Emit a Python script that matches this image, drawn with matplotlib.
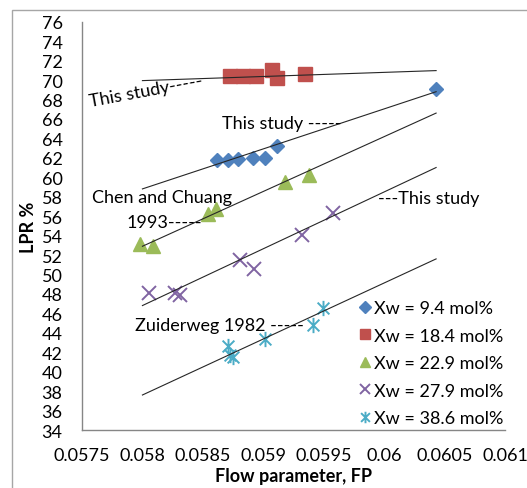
import numpy as np
import matplotlib
matplotlib.use('Agg')
import matplotlib.pyplot as plt
from matplotlib.path import Path
from matplotlib.patches import Rectangle

plt.rcParams['font.family'] = ['Lato', 'DejaVu Sans']

# data
blue_x = [0.058617, 0.058708, 0.058791, 0.058915, 0.059014, 0.059113, 0.060429]
blue_y = [61.8, 61.8, 61.9, 62.0, 62.0, 63.2, 69.1]

red_x = [0.058725, 0.058832, 0.058940, 0.059072, 0.059113, 0.059345]
red_y = [70.4, 70.4, 70.4, 71.0, 70.2, 70.6]

green_x = [0.057980, 0.058085, 0.058545, 0.058606, 0.059179, 0.059380]
green_y = [53.1, 52.9, 56.2, 56.7, 59.5, 60.2]

purple_x = [0.058054, 0.058270, 0.058311, 0.058811, 0.058923, 0.059318, 0.059577]
purple_y = [48.1, 48.1, 47.9, 51.5, 50.6, 54.1, 56.3]

cyan_x = [0.058711, 0.058725, 0.058752, 0.059014, 0.059414, 0.059491]
cyan_y = [42.6, 41.7, 41.5, 43.4, 44.8, 46.5]

labels = ['Xw = 9.4 mol%', 'Xw = 18.4 mol%', 'Xw = 22.9 mol%',
          'Xw = 27.9 mol%', 'Xw = 38.6 mol%']

# trend lines (start/end values at x = 0.058 and 0.06043)
trend_x = [0.05800, 0.06043]
trend_start = [58.8, 69.94, 52.9, 46.8, 37.6]
trend_end = [68.8, 70.97, 66.6, 61.0, 51.6]

xticks = [0.0575, 0.058, 0.0585, 0.059, 0.0595, 0.06, 0.0605, 0.061]
xticklabels = ['0.0575', '0.058', '0.0585', '0.059', '0.0595', '0.06', '0.0605', '0.061']
yticks = list(range(34, 77, 2))

# excel style asterisk: an x with a vertical bar
aster = Path([(-1, -1), (1, 1), (-1, 1), (1, -1), (0, -1.3), (0, 1.3)],
             [Path.MOVETO, Path.LINETO, Path.MOVETO, Path.LINETO, Path.MOVETO, Path.LINETO])

fig = plt.figure(figsize=(5.27, 4.89), dpi=100)
fig.patches.append(Rectangle((12 / 527, -0.1), 1.2, 1 - 11 / 489 + 0.1,
                             transform=fig.transFigure, fill=False,
                             edgecolor='#a6a6a6', linewidth=1.0))
ax = fig.add_axes([82 / 527, 1 - 431 / 489, (505 - 82) / 527, (431 - 22.7) / 489])

for s, e in zip(trend_start, trend_end):
    ax.plot(trend_x, [s, e], color='#262626', linewidth=0.8, zorder=3)

ax.plot(blue_x, blue_y, linestyle='none', marker='D', ms=7.6, color='#4f81bd',
        label=labels[0], zorder=2)
ax.plot(red_x, red_y, linestyle='none', marker='s', ms=10.5, color='#c0504d',
        label=labels[1], zorder=2)
ax.plot(green_x, green_y, linestyle='none', marker='^', ms=10.5, color='#9bbb59',
        label=labels[2], zorder=2)
ax.plot(purple_x, purple_y, linestyle='none', marker='x', ms=9.5, mew=1.4,
        color='#8064a2', label=labels[3], zorder=2)
ax.plot(cyan_x, cyan_y, linestyle='none', marker=aster, ms=11, mew=1.4,
        color='#4bacc6', label=labels[4], zorder=2)

fs = 13
ax.text(0.057566, 67.33, 'This study-----', fontsize=fs, rotation=10.5,
        rotation_mode='anchor', ha='left', va='baseline')
ax.text(0.058658, 65.07, 'This study -----', fontsize=fs, ha='left', va='baseline')
ax.text(0.058158, 57.49, 'Chen and Chuang', fontsize=fs, ha='center', va='baseline')
ax.text(0.057872, 54.92, '1993-----', fontsize=fs, ha='left', va='baseline')
ax.text(0.059952, 57.35, '---This study', fontsize=fs, ha='left', va='baseline')
ax.text(0.057939, 44.32, 'Zuiderweg 1982 -----', fontsize=fs, ha='left', va='baseline')

ax.set_xlim(0.0575, 0.061)
ax.set_ylim(34, 76)
ax.set_xticks(xticks)
ax.set_xticklabels(xticklabels)
ax.set_yticks(yticks)
ax.tick_params(axis='both', length=0, labelsize=fs)
ax.tick_params(axis='y', pad=14)
ax.tick_params(axis='x', pad=12)
for side in ['top', 'right']:
    ax.spines[side].set_visible(False)
for side in ['left', 'bottom']:
    ax.spines[side].set_color('#868686')
    ax.spines[side].set_linewidth(1.0)

ax.set_ylabel('LPR %', fontsize=fs, fontweight='bold', labelpad=3)
ax.set_xlabel('Flow parameter, FP', fontsize=fs, fontweight='bold', labelpad=3)

ax.legend(loc='upper left', bbox_to_anchor=(358 / 527, 1 - 301 / 489),
          bbox_transform=fig.transFigure, frameon=False, fontsize=fs,
          markerscale=0.75, handlelength=0.8, handletextpad=0.1,
          labelspacing=0.64, borderpad=0, borderaxespad=0)

fig.savefig('out.png', dpi=100)
